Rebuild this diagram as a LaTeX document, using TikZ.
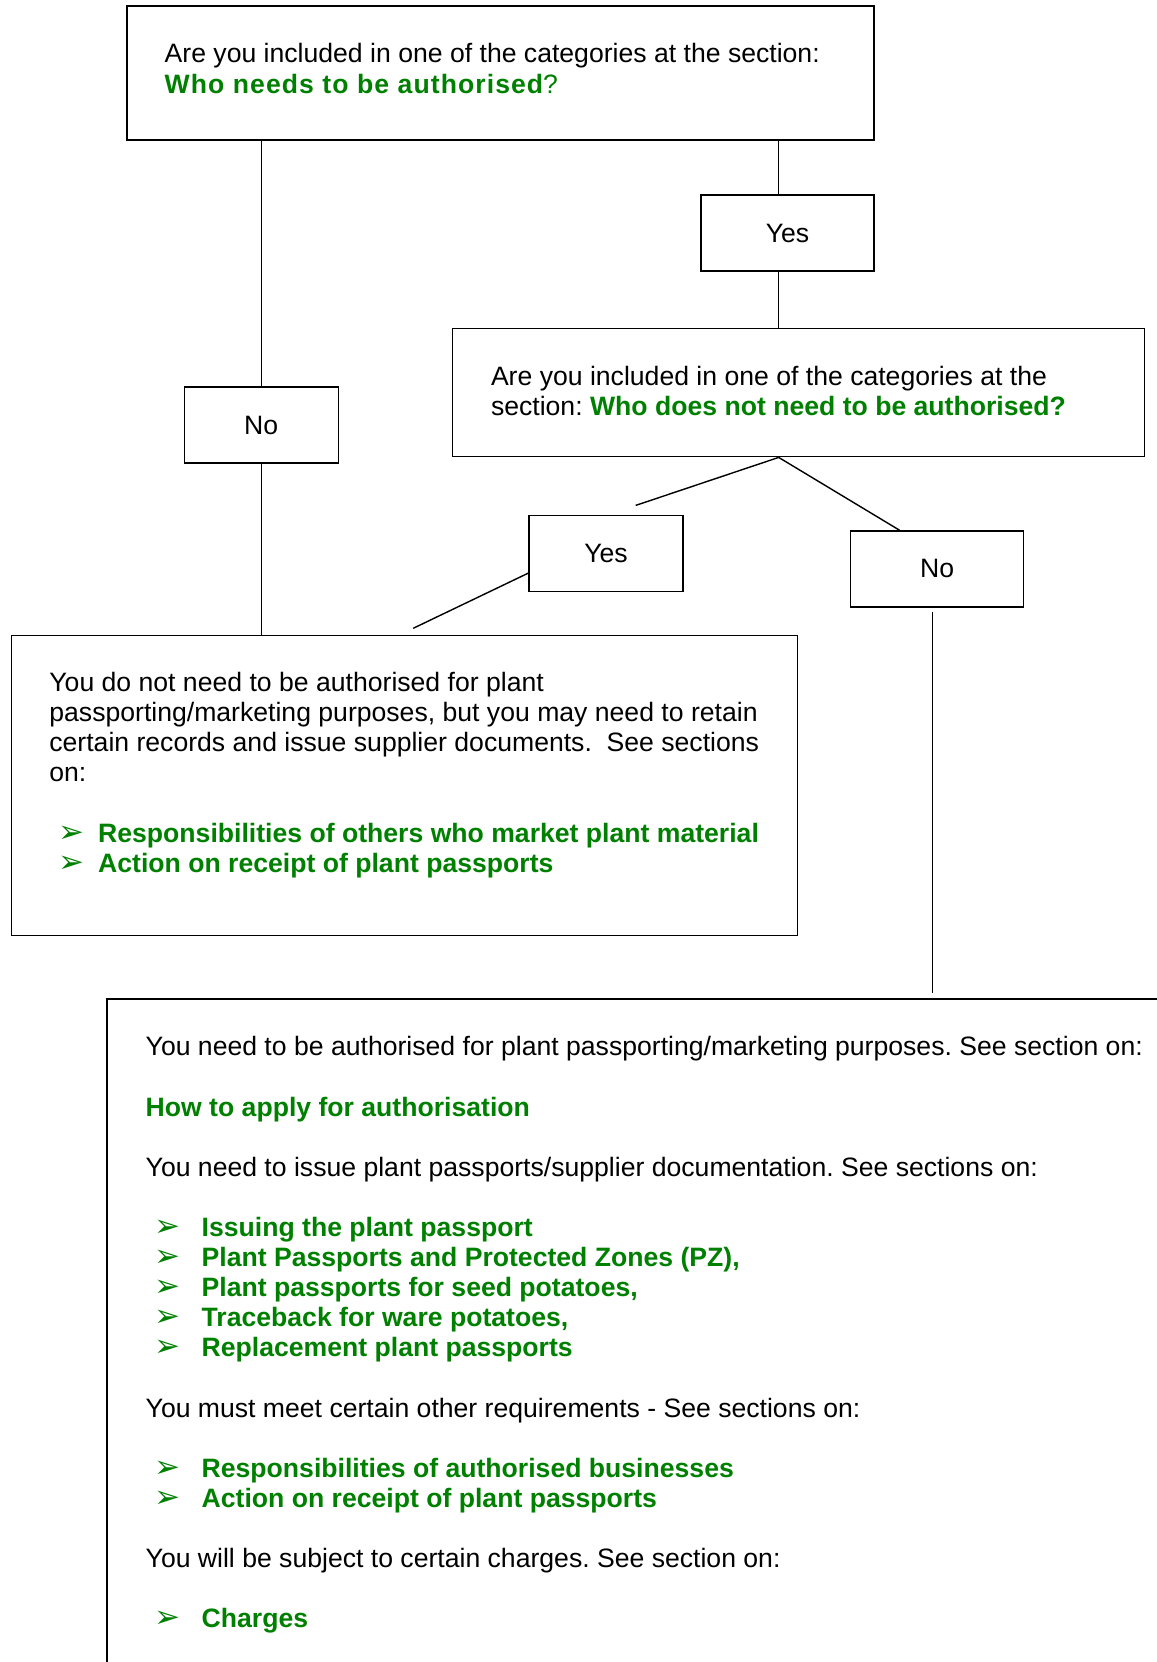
\documentclass[tikz,border=0pt]{standalone}
\usepackage{fontspec}
\setmainfont{Liberation Sans}
\newfontfamily\dingfont{DejaVu Sans}
\usepackage{xcolor}
\usetikzlibrary{positioning}
\frenchspacing

\definecolor{secgreen}{RGB}{0,128,0}
% green section references and arrow bullets
\newcommand{\sect}[1]{\textcolor{secgreen}{\bfseries #1}}
\newcommand{\bitem}[2][24.4pt]{\makebox[#1][l]{\hspace*{4.5pt}\smash{\textcolor{secgreen}{\dingfont\fontsize{15.5}{15}\selectfont ➢}}}\sect{#2}}

\begin{document}
\begin{tikzpicture}[
    x=0.5pt, y=-0.5pt,
    every node/.style={font=\fontsize{13.3}{15.05}\selectfont},
    frame/.style={draw, line width=0.7pt, inner sep=0pt},
    answer/.style={frame, minimum width=77pt, minimum height=38pt},
    txt/.style={align=left, inner sep=0pt},
    link/.style={line width=0.7pt}
  ]
  \useasboundingbox (0,0) rectangle (1157,1662);
  \clip (0,0) rectangle (1157,1662);

  % question boxes
  \node[frame, minimum width=373.5pt, minimum height=67pt] (q1) at (500.5,73) {};
  \node[txt, below right=19pt and 19pt of q1.north west] (q1t)
    {Are you included in one of the categories at the section:\\
     \sect{\addfontfeature{LetterSpace=4}Who needs to be authorised}\textcolor{secgreen}{?}};

  \node[frame, minimum width=346pt, minimum height=64.1pt] (q2) at (798.3,392.6) {};
  \node[txt, below right=19pt and 19.5pt of q2.north west] (q2t)
    {Are you included in one of the categories at the\\
     section: \sect{Who does not need to be authorised?}};

  % yes / no boxes
  \node[answer, minimum width=86.5pt] (yes1) at (787.5,233) {Yes};
  \node[answer] (no1) at (261.2,425) {No};
  \node[answer] (yes2) at (606,553.5) {Yes};
  \node[answer, minimum width=86.4pt] (no2) at (937.1,568.9) {No};

  % outcome boxes
  \node[frame, minimum width=393pt, minimum height=149.9pt] (ans1) at (404.7,785.6) {};
  \node[txt, below right=18.5pt and 19pt of ans1.north west] (ans1t)
    {You do not need to be authorised for plant\\
     passporting/marketing purposes, but you may need to retain\\
     certain records and issue supplier documents.\ \ See sections\\
     on:\\[15.05pt]
     \bitem{Responsibilities of others who market plant material}\\
     \bitem{Action on receipt of plant passports}};

  \node[frame, minimum width=540pt, minimum height=360pt] (ans2) at (647,1359) {};
  \node[txt, below right=19pt and 19.5pt of ans2.north west] (ans2t)
    {You need to be authorised for plant passporting/marketing purposes. See section on:\\[15.05pt]
     \sect{How to apply for authorisation}\\[15.05pt]
     You need to issue plant passports/supplier documentation. See sections on:\\[15.05pt]
     \bitem[28pt]{Issuing the plant passport}\\
     \bitem[28pt]{Plant Passports and Protected Zones (PZ),}\\
     \bitem[28pt]{Plant passports for seed potatoes,}\\
     \bitem[28pt]{Traceback for ware potatoes,}\\
     \bitem[28pt]{Replacement plant passports}\\[15.05pt]
     You must meet certain other requirements - See sections on:\\[15.05pt]
     \bitem[28pt]{Responsibilities of authorised businesses}\\
     \bitem[28pt]{Action on receipt of plant passports}\\[15.05pt]
     You will be subject to certain charges. See section on:\\[15.05pt]
     \bitem[28pt]{Charges}};

  % connectors
  \coordinate (spine) at (778.7,0);
  \coordinate (yesend) at (635.7,505.4);
  \coordinate (ans1end) at (413.2,628.3);
  \draw[link] (q1.south -| no1.north) -- (no1.north);
  \draw[link] (no1.south) -- (no1.south |- ans1.north);
  \draw[link] (q1.south -| spine) -- (yes1.north -| spine);
  \draw[link] (yes1.south -| spine) -- (q2.north -| spine);
  \draw[link] (q2.south -| spine) -- (yesend);
  \draw[link] (q2.south -| spine) -- ([xshift=-18.8pt]no2.north);
  \draw[link] ([yshift=-9.8pt]yes2.west) -- (ans1end);
  \draw[link, shorten <=2pt, shorten >=2.5pt] ([xshift=-2.4pt]no2.south) -- ([xshift=-2.4pt]no2.south |- ans2.north);
\end{tikzpicture}
\end{document}
